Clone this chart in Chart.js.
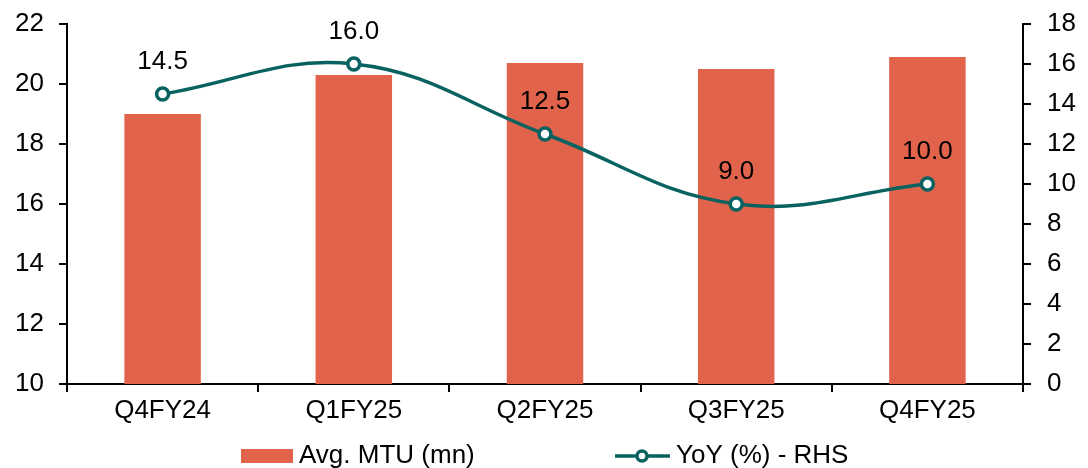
<!DOCTYPE html>
<html>
<head>
<meta charset="utf-8">
<script src="https://cdn.jsdelivr.net/npm/chart.js@4.4.1/dist/chart.umd.min.js"></script>
<style>
  html, body { margin: 0; padding: 0; background: #fff; }
  #wrap { width: 1088px; height: 468px; }
</style>
</head>
<body>
<div id="wrap"><canvas id="myChart" width="1088" height="468"></canvas></div>
<script>
// chart values
const quarters = ['Q4FY24', 'Q1FY25', 'Q2FY25', 'Q3FY25', 'Q4FY25'];
const avgMtu = [19.0, 20.3, 20.7, 20.5, 20.9];
const yoyPct = [14.5, 16.0, 12.5, 9.0, 10.0];
const leftTicks = [10, 12, 14, 16, 18, 20, 22];
const rightTicks = [0, 2, 4, 6, 8, 10, 12, 14, 16, 18];

const barColor = '#E2634B';
const lineColor = '#08625F';
const font = "'Liberation Sans', Arial, sans-serif";
const fsize = 26;

// labels over the line points
const pointLabels = {
  id: 'pointLabels',
  afterDatasetsDraw(chart) {
    const ctx = chart.ctx;
    const meta = chart.getDatasetMeta(1);
    ctx.save();
    ctx.font = fsize + 'px ' + font;
    ctx.fillStyle = '#000';
    ctx.textAlign = 'center';
    ctx.textBaseline = 'middle';
    meta.data.forEach(function(pt, i) {
      ctx.fillText(yoyPct[i].toFixed(1), pt.x, pt.y - 32);
    });
    ctx.restore();
  }
};

// legend at the bottom
const bottomLegend = {
  id: 'bottomLegend',
  afterDraw(chart) {
    const ctx = chart.ctx;
    const y = 456;
    ctx.save();
    ctx.font = fsize + 'px ' + font;
    ctx.textBaseline = 'middle';

    ctx.fillStyle = barColor;
    ctx.fillRect(241, y - 7, 52, 14);
    ctx.fillStyle = '#000';
    ctx.fillText('Avg. MTU (mn)', 299, y);

    ctx.strokeStyle = lineColor;
    ctx.lineWidth = 3.5;
    ctx.beginPath();
    ctx.moveTo(615, y);
    ctx.lineTo(670, y);
    ctx.stroke();
    ctx.beginPath();
    ctx.arc(642, y, 5, 0, Math.PI * 2);
    ctx.fillStyle = '#fff';
    ctx.fill();
    ctx.stroke();
    ctx.fillStyle = '#000';
    ctx.fillText('YoY (%) - RHS', 676, y);
    ctx.restore();
  }
};

// fixed axis sizes, no extra label padding
function fixV(w) {
  return function(s) { s.width = w; s.paddingTop = 0; s.paddingBottom = 0; };
}

const config = {
  data: {
    labels: quarters,
    datasets: [
      {
        type: 'bar',
        label: 'Avg. MTU (mn)',
        data: avgMtu,
        backgroundColor: barColor,
        yAxisID: 'y',
        categoryPercentage: 1.0,
        barPercentage: 0.4,
        order: 2
      },
      {
        type: 'line',
        label: 'YoY (%) - RHS',
        data: yoyPct,
        borderColor: lineColor,
        borderWidth: 3.5,
        backgroundColor: '#fff',
        pointBackgroundColor: '#fff',
        pointBorderColor: lineColor,
        pointBorderWidth: 3.5,
        pointRadius: 6,
        tension: 0.4,
        yAxisID: 'y1',
        order: 1
      }
    ]
  },
  options: {
    responsive: false,
    animation: false,
    layout: { padding: { top: 24, bottom: 34, left: 0, right: 0 } },
    plugins: {
      legend: { display: false },
      tooltip: { enabled: false }
    },
    scales: {
      x: {
        offset: true,
        grid: {
          offset: true,
          drawOnChartArea: false,
          color: '#000',
          lineWidth: 2,
          tickLength: 8
        },
        border: { color: '#000', width: 2 },
        ticks: { color: '#000', font: { family: font, size: fsize }, padding: 3 },
        afterFit(s) { s.height = 50; s.paddingLeft = 0; s.paddingRight = 0; }
      },
      y: {
        position: 'left',
        min: 10,
        max: 22,
        afterBuildTicks(s) { s.ticks = leftTicks.map(v => ({ value: v })); },
        grid: {
          drawOnChartArea: false,
          color: '#000',
          lineWidth: 2,
          tickLength: 8
        },
        border: { color: '#000', width: 2 },
        ticks: { color: '#000', font: { family: font, size: fsize }, padding: 15 },
        afterFit: fixV(67)
      },
      y1: {
        position: 'right',
        min: 0,
        max: 18,
        afterBuildTicks(s) { s.ticks = rightTicks.map(v => ({ value: v })); },
        grid: {
          drawOnChartArea: false,
          color: '#000',
          lineWidth: 2,
          tickLength: 8
        },
        border: { color: '#000', width: 2 },
        ticks: { color: '#000', font: { family: font, size: fsize }, padding: 16 },
        afterFit: fixV(65)
      }
    }
  },
  plugins: [pointLabels, bottomLegend]
};

const myChart = new Chart(document.getElementById('myChart'), config);
</script>
</body>
</html>
